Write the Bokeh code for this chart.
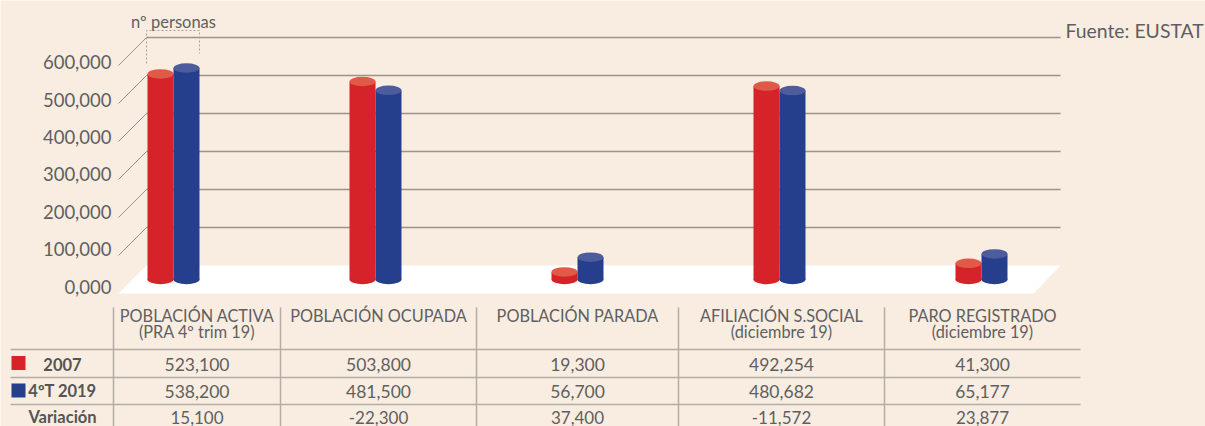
from bokeh.plotting import figure
from bokeh.models import Range1d
from bokeh.core.properties import value
from bokeh.embed import file_html
from bokeh.resources import INLINE

# ---------------- data ----------------
categories = ["POBLACIÓN ACTIVA", "POBLACIÓN OCUPADA", "POBLACIÓN PARADA",
              "AFILIACIÓN S.SOCIAL", "PARO REGISTRADO"]
subtitles = ["(PRA 4º trim 19)", "", "", "(diciembre 19)", "(diciembre 19)"]
row_names = ["2007", "4ºT 2019", "Variación"]
v2007 = [523100, 503800, 19300, 492254, 41300]
v2019 = [538200, 481500, 56700, 480682, 65177]
variacion = [15100, -22300, 37400, -11572, 23877]
ticks = [0, 100000, 200000, 300000, 400000, 500000, 600000]
tick_labels = ["0,000", "100,000", "200,000", "300,000", "400,000", "500,000", "600,000"]
unit_label = "nº personas"
source_label = "Fuente: EUSTAT"

# ---------------- style / layout ----------------
BG = "#f9ede1"
RED, RED_TOP = "#d62229", "#e05a47"
BLUE, BLUE_TOP = "#253f8d", "#4c5c9d"
TXT = "#5f5f5f"
GRID = "#9b928b"
TLINE = "#b3ada8"
FONT = value("Lato")

W, H, M = 1205, 426, 0
GROUP_PX, G0 = 202, 173
x_start = -(G0 - M) / GROUP_PX
x_end = x_start + W / GROUP_PX


def xd(px):
    return x_start + (px - M) / GROUP_PX


WALL0, WALL_S = 265, 38 / 100000
BAR0, BAR_S = 279, 39.3 / 100000
LAB0, LAB_S = 286, 37.4 / 100000
DEPTH = 28


def yd(py):
    return (WALL0 - py) / WALL_S


p = figure(width=W, height=H, x_range=Range1d(x_start, x_end),
           y_range=Range1d(yd(M + H), yd(M)),
           output_backend="svg", toolbar_location=None, min_border=0,
           x_axis_type=None, y_axis_type=None,
           background_fill_color=BG, border_fill_color=BG, outline_line_color=None)
p.extra_y_ranges = {"bars": Range1d((BAR0 - (M + H)) / BAR_S, (BAR0 - M) / BAR_S)}
p.xgrid.visible = False
p.ygrid.visible = False

n = len(ticks) - 1
# back wall grid lines
p.segment(x0=[xd(146)] * n, y0=ticks[1:], x1=[xd(1060)] * n, y1=ticks[1:],
          line_color=GRID, line_width=1.5)
# side diagonals
p.segment(x0=[xd(118)] * n, y0=[t - DEPTH / WALL_S for t in ticks[1:]],
          x1=[xd(146)] * n, y1=ticks[1:], line_color=GRID, line_width=1)
# floor
p.patch(x=[xd(118), xd(146), xd(1060), xd(1033)],
        y=[yd(WALL0 + DEPTH), 0, 0, yd(WALL0 + DEPTH)],
        fill_color="white", line_color=None)

# tick labels
p.text(x=[xd(111)] * len(ticks), y=[yd(LAB0 - t * LAB_S) for t in ticks], text=tick_labels,
       text_align="right", text_baseline="middle", text_font=FONT,
       text_font_size="18.5px", text_color=TXT)

# cylinders
BW = 26 / GROUP_PX
OFF = 13 / GROUP_PX
EH = 9.5 / BAR_S
for vals, off, body, top in [(v2007, -OFF, RED, RED_TOP), (v2019, OFF, BLUE, BLUE_TOP)]:
    xs = [i + off for i in range(len(vals))]
    p.ellipse(x=xs, y=[0] * len(vals), width=BW, height=EH, fill_color=body,
              line_color=None, y_range_name="bars")
    p.vbar(x=xs, width=BW, top=vals, bottom=0, fill_color=body, line_color=None,
           y_range_name="bars")
    p.ellipse(x=xs, y=vals, width=BW, height=EH, fill_color=top,
              line_color=None, y_range_name="bars")

# unit box and label
p.line(x=[xd(146), xd(146), xd(199), xd(199)], y=[yd(63), yd(30), yd(30), yd(53)],
       line_color="#a7a19c", line_width=1, line_dash="2 2")
p.text(x=[0], y=[yd(21)], text=[unit_label], text_align="center", text_baseline="middle",
       text_font=FONT, text_font_size="16.5px", text_color=TXT)
p.text(x=[xd(1065)], y=[yd(30)], text=[source_label], text_align="left",
       text_baseline="middle", text_font=FONT, text_font_size="19.4px", text_color=TXT)

# ---------------- table ----------------
col_edges = [113, 280, 476, 678, 884, 1080]
col_centers = [xd((a + b) / 2) for a, b in zip(col_edges[:-1], col_edges[1:])]
p.text(x=col_centers, y=[yd(314.5)] * len(col_centers), text=categories, text_align="center",
       text_baseline="middle", text_font=FONT, text_font_size="16.3px", text_color=TXT)
p.text(x=col_centers, y=[yd(331)] * len(col_centers), text=subtitles, text_align="center",
       text_baseline="middle", text_font=FONT, text_font_size="16.3px", text_color=TXT)

row_mid = [364, 391, 416.5]
row_size = ["17.5px", "17.5px", "17px"]
for vals, b, fs in zip([v2007, v2019, variacion], row_mid, row_size):
    p.text(x=col_centers, y=[yd(b)] * len(col_centers), text=[f"{v:,}" for v in vals],
           text_align="center", text_baseline="middle", text_font=FONT,
           text_font_size=fs, text_color=TXT)
p.text(x=[xd(62)] * 3, y=[yd(363.5), yd(390.5), yd(416)], text=row_names, text_align="center",
       text_baseline="middle", text_font=FONT, text_font_size="16.5px",
       text_font_style="bold", text_color="#555555")
p.scatter(x=[xd(18), xd(18)], y=[yd(362.5), yd(390)], marker="square", size=14,
          fill_color=[RED, BLUE], line_color=None)

hl = [349, 377, 404]
p.segment(x0=[xd(10)] * 3, y0=[yd(h) for h in hl], x1=[xd(1080)] * 3, y1=[yd(h) for h in hl],
          line_color=TLINE, line_width=1.5)
vl = col_edges[:-1]
p.segment(x0=[xd(v) for v in vl], y0=[yd(307)] * len(vl), x1=[xd(v) for v in vl],
          y1=[yd(M + H)] * len(vl), line_color=TLINE, line_width=1.5)

open("out.html", "w").write(file_html(p, INLINE))
